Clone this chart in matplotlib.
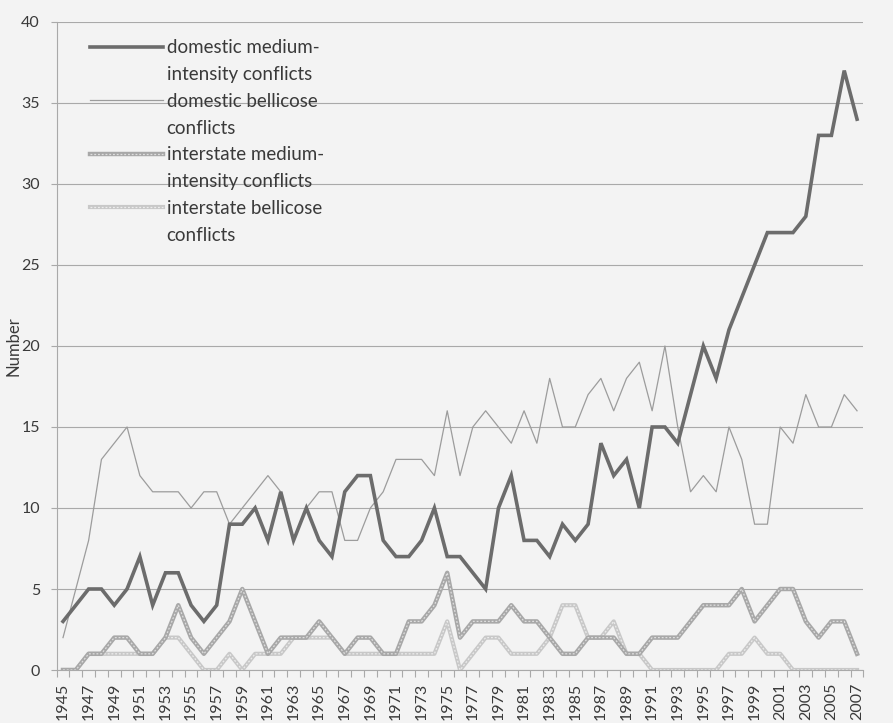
import numpy as np
import matplotlib
matplotlib.use("Agg")
import matplotlib.pyplot as plt
from matplotlib.lines import Line2D

# ============================================================
# DATA (number of conflicts per year)
# ============================================================

years = list(range(1945, 2008))

domestic_medium = [3, 4, 5, 5, 4, 5, 7, 4, 6, 6,
                   4, 3, 4, 9, 9, 10, 8, 11, 8, 10,
                   8, 7, 11, 12, 12, 8, 7, 7, 8, 10,
                   7, 7, 6, 5, 10, 12, 8, 8, 7, 9,
                   8, 9, 14, 12, 13, 10, 15, 15, 14, 17,
                   20, 18, 21, 23, 25, 27, 27, 27, 28, 33,
                   33, 37, 34]

domestic_bellicose = [2, 5, 8, 13, 14, 15, 12, 11, 11, 11,
                      10, 11, 11, 9, 10, 11, 12, 11, 8, 10,
                      11, 11, 8, 8, 10, 11, 13, 13, 13, 12,
                      16, 12, 15, 16, 15, 14, 16, 14, 18, 15,
                      15, 17, 18, 16, 18, 19, 16, 20, 15, 11,
                      12, 11, 15, 13, 9, 9, 15, 14, 17, 15,
                      15, 17, 16]

interstate_medium = [0, 0, 1, 1, 2, 2, 1, 1, 2, 4,
                     2, 1, 2, 3, 5, 3, 1, 2, 2, 2,
                     3, 2, 1, 2, 2, 1, 1, 3, 3, 4,
                     6, 2, 3, 3, 3, 4, 3, 3, 2, 1,
                     1, 2, 2, 2, 1, 1, 2, 2, 2, 3,
                     4, 4, 4, 5, 3, 4, 5, 5, 3, 2,
                     3, 3, 1]

interstate_bellicose = [0, 0, 1, 1, 1, 1, 1, 1, 2, 2,
                        1, 0, 0, 1, 0, 1, 1, 1, 2, 2,
                        2, 2, 1, 1, 1, 1, 1, 1, 1, 1,
                        3, 0, 1, 2, 2, 1, 1, 1, 2, 4,
                        4, 2, 2, 3, 1, 1, 0, 0, 0, 0,
                        0, 0, 1, 1, 2, 1, 1, 0, 0, 0,
                        0, 0, 0]

legend_labels = ["domestic medium-", "intensity conflicts",
                 "domestic bellicose", "conflicts",
                 "interstate medium-", "intensity conflicts",
                 "interstate bellicose", "conflicts"]

# ============================================================
# STYLE
# ============================================================

bg = "#f3f3f3"
txt = "#3a3a3a"
grid = "#a9a9a9"

plt.rcParams['font.family'] = ['Lato', 'DejaVu Sans']

fig = plt.figure(figsize=(8.93, 7.23), dpi=100, facecolor=bg)
ax = fig.add_axes([0.0634, 0.0733, 0.9035, 0.8963])
ax.set_facecolor(bg)

# ============================================================
# PLOT
# ============================================================

l_dm, = ax.plot(years, domestic_medium, color="#6c6c6c", lw=2.6,
                solid_joinstyle="miter", zorder=5)
l_db, = ax.plot(years, domestic_bellicose, color="#9c9c9c", lw=0.9, zorder=4)

l_imo, = ax.plot(years, interstate_medium, color="#a8a8a8", lw=3.2, zorder=3)
l_imi, = ax.plot(years, interstate_medium, color="#dedede", lw=0.9,
                 ls=(0, (1.5, 1.5)), zorder=3)
l_ibo, = ax.plot(years, interstate_bellicose, color="#c8c8c8", lw=3.0, zorder=2)
l_ibi, = ax.plot(years, interstate_bellicose, color="#ececec", lw=0.9,
                 ls=(0, (1.5, 1.5)), zorder=2)

ax.set_xlim(1944.5, 2007.5)
ax.set_ylim(0, 40)

ax.set_yticks(np.arange(0, 41, 5))
ax.yaxis.grid(True, color=grid, lw=0.8)
ax.set_axisbelow(True)

ax.set_xticks(years[::2])
ax.set_xticklabels([str(y) for y in years[::2]], rotation=90)
ax.set_xticks(np.arange(1944.5, 2008, 1), minor=True)
ax.tick_params(axis="x", which="major", length=0, pad=9, labelsize=11.5,
               colors=txt)
ax.tick_params(axis="x", which="minor", length=5, width=0.8, color=grid,
               direction="out")
ax.tick_params(axis="y", length=4, width=0.8, color=grid, pad=8,
               labelsize=11.5, labelcolor=txt)

for s in ["top", "right"]:
    ax.spines[s].set_visible(False)
ax.spines["left"].set_color(grid)
ax.spines["bottom"].set_color(grid)
ax.spines["left"].set_linewidth(0.8)
ax.spines["bottom"].set_linewidth(0.8)

ax.set_ylabel("Number", fontsize=12, color=txt)
ax.yaxis.set_label_coords(-0.044, 0.5)

# legend: first text line of each entry carries the line sample
blank = Line2D([], [], color="none")
handles = [l_dm, blank, l_db, blank, (l_imo, l_imi), blank, (l_ibo, l_ibi), blank]
leg = ax.legend(handles, legend_labels, loc="upper left",
                bbox_to_anchor=(0.041, 0.973), frameon=False,
                fontsize=13.5, handlelength=3.9, handletextpad=0.2,
                labelspacing=0.52, borderpad=0, borderaxespad=0)
for t in leg.get_texts():
    t.set_color(txt)

fig.savefig("out.png", dpi=100, facecolor=bg)
